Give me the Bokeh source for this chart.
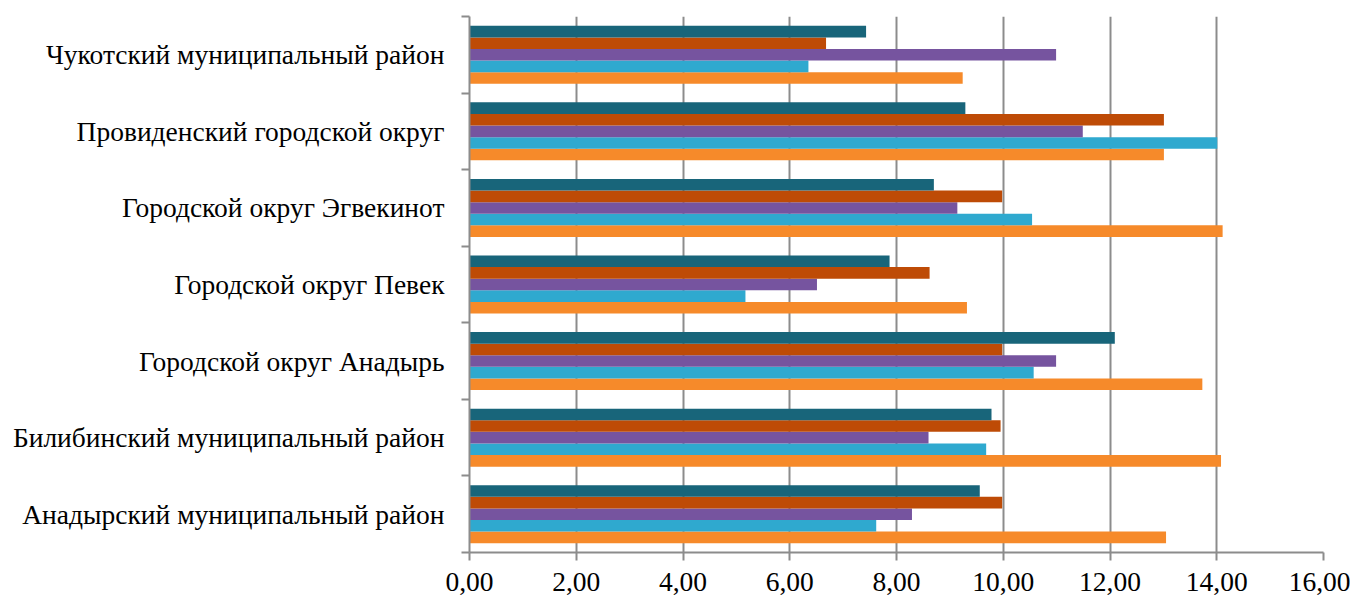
from bokeh.plotting import figure
from bokeh.models import Range1d, FixedTicker, CustomJSTickFormatter, ColumnDataSource
from bokeh.transform import dodge
from bokeh.embed import file_html
from bokeh.resources import INLINE

# categories listed bottom -> top
categories = [
    "Анадырский муниципальный район",
    "Билибинский муниципальный район",
    "Городской округ Анадырь",
    "Городской округ Певек",
    "Городской округ Эгвекинот",
    "Провиденский городской округ",
    "Чукотский муниципальный район",
]

# series (bottom bar within group -> top bar)
s1_orange     = [13.05, 14.08, 13.73, 9.32, 14.11, 13.01, 9.24]
s2_lightblue  = [7.62, 9.68, 10.57, 5.17, 10.54, 14.01, 6.35]
s3_purple     = [8.29, 8.60, 10.99, 6.51, 9.14, 11.49, 10.99]
s4_darkorange = [9.98, 9.95, 9.98, 8.62, 9.98, 13.01, 6.68]
s5_teal       = [9.56, 9.78, 12.09, 7.87, 8.70, 9.29, 7.43]

x_ticks = [0, 2, 4, 6, 8, 10, 12, 14, 16]

series = [s1_orange, s2_lightblue, s3_purple, s4_darkorange, s5_teal]
colors = ["#F68A2A", "#2FA9CF", "#76549F", "#BE4B06", "#18657A"]

FONT = "Liberation Serif"
GRAY = "#8C8C8C"

p = figure(
    output_backend="svg", toolbar_location=None,
    frame_width=854, frame_height=536,
    min_border_left=469, min_border_right=27, min_border_top=16, min_border_bottom=45,
    x_range=Range1d(0, 16), y_range=Range1d(0, len(categories)),
)
p.outline_line_color = None

centers = [i + 0.5 for i in range(len(categories))]
data = {"y": centers}
for k, s in enumerate(series):
    data[f"s{k}"] = s
src = ColumnDataSource(data)

step = 0.1515
for k in range(len(series)):
    off = (k - 2) * step
    p.hbar(y=dodge("y", off), right=f"s{k}", left=0, height=step, source=src,
           fill_color=colors[k], line_color=None)

# x axis
p.xaxis.ticker = FixedTicker(ticks=x_ticks)
p.xaxis.formatter = CustomJSTickFormatter(code="return tick.toFixed(2).replace('.', ',');")
p.xaxis.major_label_text_font = FONT
p.xaxis.major_label_text_font_size = "27.5px"
p.xaxis.major_label_text_color = "black"
p.xaxis.axis_line_color = GRAY
p.xaxis.axis_line_width = 2
p.xaxis.major_tick_line_color = GRAY
p.xaxis.major_tick_line_width = 2
p.xaxis.major_tick_out = 8
p.xaxis.major_tick_in = 0
p.xaxis.minor_tick_line_color = None
p.xaxis.major_label_standoff = 12

# y axis: labels at centers, ticks at boundaries
p.yaxis.ticker = FixedTicker(ticks=centers, minor_ticks=list(range(len(categories) + 1)))
p.yaxis.major_label_overrides = {c: categories[i] for i, c in enumerate(centers)}
p.yaxis.major_label_text_font = FONT
p.yaxis.major_label_text_font_size = "27.5px"
p.yaxis.major_label_text_color = "black"
p.yaxis.axis_line_color = GRAY
p.yaxis.axis_line_width = 2
p.yaxis.major_tick_line_color = None
p.yaxis.major_tick_out = 0
p.yaxis.major_tick_in = 0
p.yaxis.minor_tick_line_color = GRAY
p.yaxis.minor_tick_line_width = 2
p.yaxis.minor_tick_out = 8
p.yaxis.minor_tick_in = 0
p.yaxis.major_label_standoff = 17

p.xgrid.grid_line_color = GRAY
p.xgrid.grid_line_width = 2
p.ygrid.grid_line_color = None

open("out.html", "w").write(file_html(p, INLINE))
